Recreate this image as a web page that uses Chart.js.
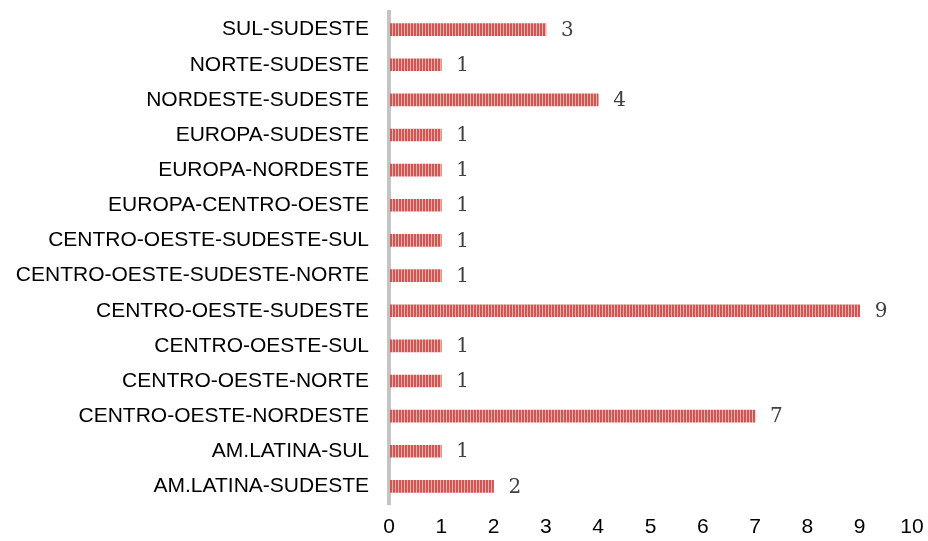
<!DOCTYPE html>
<html>
<head>
<meta charset="utf-8">
<script src="https://cdn.jsdelivr.net/npm/chart.js@4/dist/chart.umd.min.js"></script>
<style>
  html, body { margin: 0; padding: 0; background: #fff; }
  #wrap { width: 928px; height: 541px; }
</style>
</head>
<body>
<div id="wrap"><canvas id="chart" width="928" height="541"></canvas></div>
<script>
// categories, top to bottom as in the picture
const categories = [
    'SUL-SUDESTE',
    'NORTE-SUDESTE',
    'NORDESTE-SUDESTE',
    'EUROPA-SUDESTE',
    'EUROPA-NORDESTE',
    'EUROPA-CENTRO-OESTE',
    'CENTRO-OESTE-SUDESTE-SUL',
    'CENTRO-OESTE-SUDESTE-NORTE',
    'CENTRO-OESTE-SUDESTE',
    'CENTRO-OESTE-SUL',
    'CENTRO-OESTE-NORTE',
    'CENTRO-OESTE-NORDESTE',
    'AM.LATINA-SUL',
    'AM.LATINA-SUDESTE'
];
const counts = [3, 1, 4, 1, 1, 1, 1, 1, 9, 1, 1, 7, 1, 2];
const xTicks = [0, 1, 2, 3, 4, 5, 6, 7, 8, 9, 10];

// vertical stripe fill like the original
function stripePattern() {
    const c = document.createElement('canvas');
    c.width = 3;
    c.height = 4;
    const g = c.getContext('2d');
    g.fillStyle = '#eaaeac';
    g.fillRect(0, 0, 3, 4);
    g.fillStyle = '#cc5855';
    g.fillRect(0, 0, 2, 4);
    return g.createPattern(c, 'repeat');
}

// value labels at the end of each bar
const valueLabels = {
    id: 'valueLabels',
    afterDatasetsDraw(chart) {
        const ctx = chart.ctx;
        const meta = chart.getDatasetMeta(0);
        ctx.save();
        ctx.font = '20px "DejaVu Serif"';
        ctx.fillStyle = '#404040';
        ctx.textAlign = 'left';
        ctx.textBaseline = 'middle';
        meta.data.forEach((bar, i) => {
            ctx.fillText(String(counts[i]), bar.x + 15, bar.y + 1);
        });
        ctx.restore();
    }
};

new Chart(document.getElementById('chart'), {
    type: 'bar',
    data: {
        labels: categories,
        datasets: [{
            data: counts,
            backgroundColor: stripePattern(),
            barThickness: 12,
            borderWidth: 0
        }]
    },
    options: {
        indexAxis: 'y',
        responsive: false,
        animation: false,
        layout: { padding: { top: 12, right: 16, bottom: 0, left: 0 } },
        plugins: {
            legend: { display: false },
            tooltip: { enabled: false }
        },
        scales: {
            x: {
                min: 0,
                max: 10,
                afterBuildTicks: s => { s.ticks = xTicks.map(v => ({ value: v })); },
                afterFit: s => {
                    s.height = 37;
                    s.paddingLeft = 0;
                    s.paddingRight = 0;
                },
                grid: { display: false, drawTicks: false },
                border: { display: false },
                ticks: {
                    color: '#000',
                    padding: 11,
                    maxRotation: 0,
                    font: { family: '"Liberation Sans", Arial', size: 21 }
                }
            },
            y: {
                afterFit: s => {
                    s.width = 389;
                    s.paddingTop = 0;
                    s.paddingBottom = 0;
                },
                grid: { display: false, drawTicks: false },
                border: { display: true, color: '#c4c4c4', width: 4 },
                ticks: {
                    color: '#000',
                    padding: 20,
                    autoSkip: false,
                    font: { family: '"Liberation Sans", Arial', size: 21 }
                }
            }
        }
    },
    plugins: [valueLabels]
});
</script>
</body>
</html>
